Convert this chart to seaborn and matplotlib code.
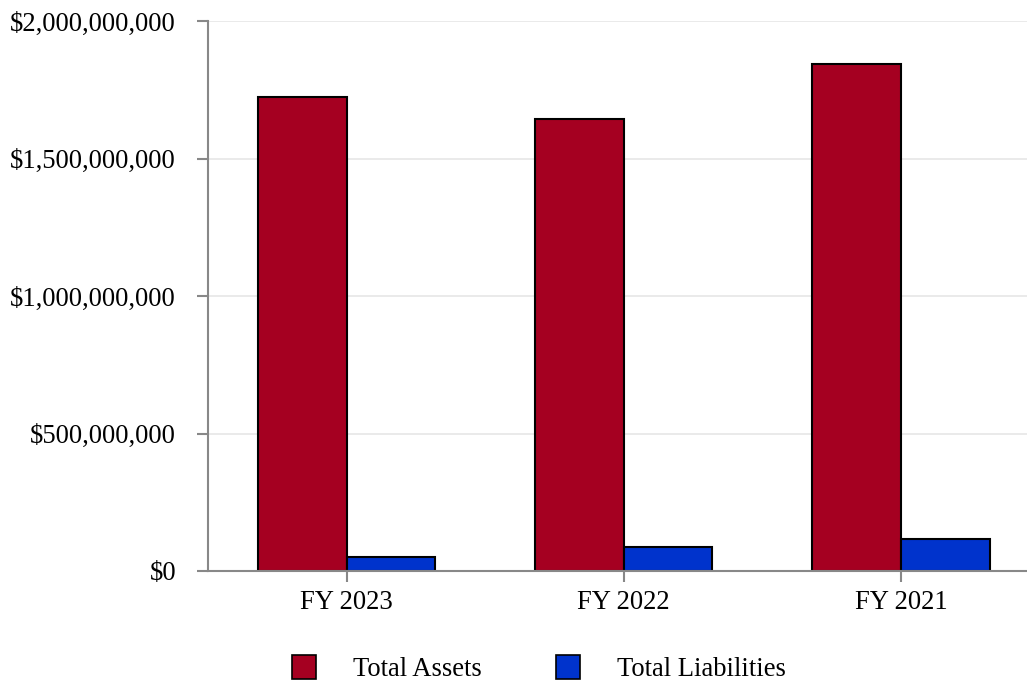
import pandas as pd
import seaborn as sns
import matplotlib.pyplot as plt
from matplotlib.lines import Line2D
from matplotlib.ticker import FuncFormatter

# values
years = ["FY 2023", "FY 2022", "FY 2021"]
total_assets = [1.724e9, 1.645e9, 1.842e9]
total_liabilities = [0.050e9, 0.086e9, 0.115e9]
series_names = ["Total Assets", "Total Liabilities"]
y_ticks = [0, 5e8, 1e9, 1.5e9, 2e9]

colors = {"Total Assets": "#A50021", "Total Liabilities": "#0033CC"}

df = pd.DataFrame({
    "year": years * 2,
    "series": [series_names[0]] * 3 + [series_names[1]] * 3,
    "value": total_assets + total_liabilities,
})

sns.set_theme(style="white")
plt.rcParams["font.family"] = ["Liberation Serif", "DejaVu Serif"]
plt.rcParams["font.size"] = 19.2
plt.rcParams["text.color"] = "black"

fig = plt.figure(figsize=(10.27, 6.83), dpi=100)
ax = fig.add_axes([208 / 1027, 112 / 683, 831.5 / 1027, 550 / 683])

sns.barplot(data=df, x="year", y="value", hue="series", order=years,
            hue_order=series_names, palette=colors, width=0.64, gap=0,
            edgecolor="black", linewidth=1.5, saturation=1, ax=ax, legend=False)

ax.set_ylim(0, 2e9)
ax.set_xlim(-0.5, 2.5)
ax.set_yticks(y_ticks)
ax.yaxis.set_major_formatter(FuncFormatter(lambda v, p: f"${v:,.0f}"))
ax.set_xlabel("")
ax.set_ylabel("")
ax.grid(axis="y", color="#e6e6e6", linewidth=1.2)
ax.set_axisbelow(True)

for side in ["top", "right"]:
    ax.spines[side].set_visible(False)
for side in ["left", "bottom"]:
    ax.spines[side].set_color("#888888")
    ax.spines[side].set_linewidth(1.5)

ax.tick_params(axis="y", length=8, width=1.5, color="#888888", pad=15,
               labelsize=19.2, labelcolor="black", left=True)
ax.tick_params(axis="x", length=8, width=1.5, color="#888888", pad=6,
               labelsize=19.2, labelcolor="black", bottom=True)

handles = [Line2D([], [], marker="s", linestyle="none", markersize=17.5,
                  markerfacecolor=colors[n], markeredgecolor="black",
                  markeredgewidth=1.2) for n in series_names]
fig.legend(handles, series_names, loc="center", bbox_to_anchor=(0.5175, 0.02),
           ncol=2, frameon=False, fontsize=19.2, handletextpad=0.85,
           columnspacing=2.22, labelcolor="black")

fig.savefig("out.png", dpi=100)
